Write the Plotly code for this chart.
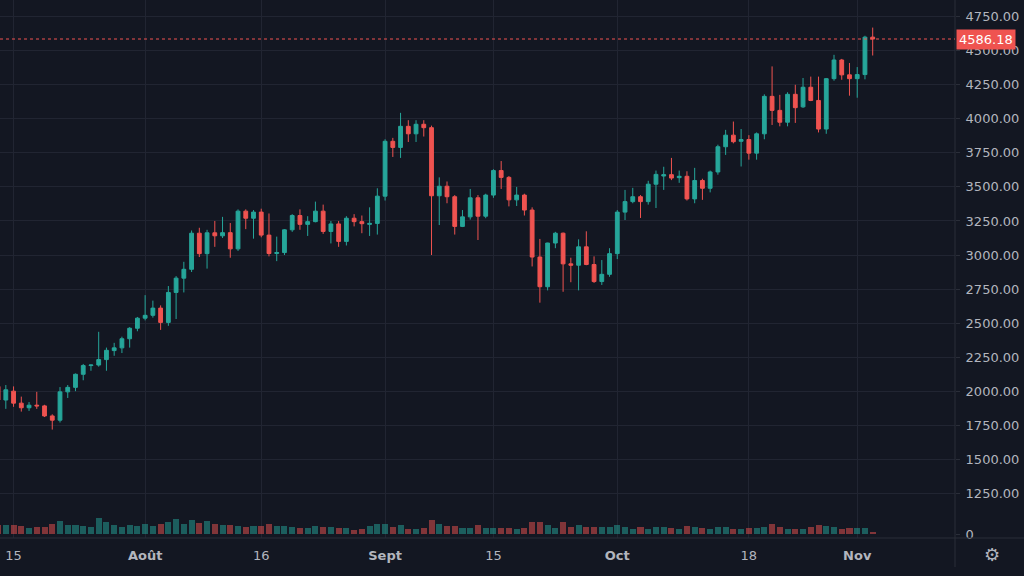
import pandas as pd
import plotly.graph_objects as go

# ---------------- data (ETH daily candles) ----------------
start_date = "2021-07-13"
opens = [2035, 1935, 2000, 1912, 1878, 1897, 1892, 1818, 1787, 1995, 2028, 2124, 2188, 2192, 2232, 2298, 2318, 2385, 2462,
         2536, 2557, 2610, 2505, 2725, 2830, 2895, 3160, 3010, 3163, 3141, 3164, 3045, 3322, 3270, 3315, 3146, 3011, 3018, 3185,
         3290, 3225, 3245, 3322, 3173, 3228, 3100, 3270, 3245, 3225, 3232,
         3432, 3835, 3790, 3945, 3890, 3960, 3935, 3435, 3505, 3428, 3210, 3280, 3420, 3285, 3440, 3620, 3570, 3405, 3440,
         3330, 2985, 2767, 3088, 3160, 2935, 2925, 3060, 2930, 2805, 2858,
         3010, 3315, 3392, 3428, 3392, 3520, 3580, 3590, 3568, 3578, 3412, 3547, 3490, 3610, 3795, 3880, 3835, 3848, 3748,
         3890, 4165, 4062, 3975, 4180, 4088, 4232, 4135, 3925, 4295, 4432, 4323,
         4295, 4325, 4600]
highs = [2045, 2045, 2035, 1960, 1920, 1995, 1900, 1830, 2030, 2045, 2130, 2200, 2195, 2436, 2320, 2355, 2400, 2470, 2545,
         2705, 2665, 2630, 2772, 2845, 2950, 3180, 3200, 3185, 3250, 3280, 3235, 3335, 3335, 3330, 3340, 3305, 3135, 3190,
         3300, 3335, 3285, 3392, 3370, 3250, 3250, 3285, 3300, 3290, 3350, 3490,
         3850, 3860, 4044, 3990, 3990, 3990, 3950, 3570, 3540, 3440, 3330, 3485, 3440, 3450, 3630, 3690, 3580, 3500,
         3450, 3350, 3118, 3090, 3170, 3165, 2980, 3115, 3174, 2990, 2963, 3050,
         3330, 3478, 3493, 3440, 3545, 3620, 3648, 3713, 3620, 3615, 3640, 3560, 3620, 3810, 3919, 3980, 3925, 3880,
         3900, 4180, 4385, 4176, 4195, 4250, 4300, 4310, 4310, 4300, 4470, 4440, 4410,
         4380, 4610, 4670]
lows = [1925, 1870, 1885, 1850, 1855, 1870, 1810, 1718, 1770, 1950, 2000, 2080, 2150, 2180, 2150, 2260, 2280, 2320, 2440,
        2520, 2540, 2450, 2480, 2530, 2725, 2875, 2985, 2900, 3060, 3125, 2980, 3030, 3190, 3120, 3130, 2990, 2955, 3000,
        3170, 3185, 3140, 3240, 3155, 3085, 3060, 3070, 3210, 3160, 3140, 3150,
        3400, 3720, 3713, 3830, 3830, 3870, 3000, 3220, 3380, 3150, 3205, 3260, 3110, 3270, 3420, 3485, 3357, 3360,
        3290, 2916, 2650, 2740, 3050, 2730, 2800, 2740, 2925, 2795, 2780, 2840,
        2970, 3257, 3380, 3272, 3370, 3345, 3478, 3550, 3530, 3400, 3380, 3405, 3460, 3590, 3735, 3820, 3650, 3700,
        3700, 3850, 3955, 3945, 3945, 3970, 4080, 4130, 3900, 3890, 4280, 4287, 4170,
        4155, 4290, 4465]
closes = [1935, 2010, 1912, 1878, 1897, 1892, 1818, 1787, 1995, 2028, 2124, 2188, 2192, 2232, 2300, 2318, 2385, 2462, 2536,
          2557, 2610, 2505, 2725, 2830, 2895, 3160, 3010, 3163, 3141, 3164, 3045, 3322, 3270, 3315, 3146, 3011, 3018, 3185,
          3290, 3225, 3245, 3322, 3173, 3228, 3100, 3270, 3245, 3230, 3232, 3432,
          3835, 3790, 3945, 3890, 3960, 3935, 3435, 3505, 3428, 3210, 3280, 3420, 3285, 3440, 3620, 3570, 3405, 3440,
          3330, 2985, 2767, 3088, 3160, 2935, 2925, 3060, 2930, 2805, 2858, 3010,
          3315, 3392, 3428, 3392, 3520, 3592, 3590, 3565, 3578, 3412, 3547, 3490, 3610, 3795, 3880, 3832, 3848, 3748,
          3890, 4165, 4062, 3975, 4180, 4082, 4232, 4135, 3925, 4295, 4432, 4323, 4295,
          4325, 4600, 4586.18]
volumes = [26, 26, 26, 23, 18, 21, 21, 30, 40, 28, 26, 23, 21, 48, 35, 26, 21, 28, 23,
           31, 25, 30, 35, 46, 30, 43, 33, 40, 30, 28, 28, 23, 21, 23, 23, 30, 23, 23,
           21, 18, 18, 23, 21, 21, 18, 18, 13, 16, 23, 30,
           31, 21, 26, 16, 16, 18, 43, 30, 23, 23, 18, 18, 26, 18, 18, 18, 18, 15,
           18, 35, 35, 26, 18, 36, 21, 26, 21, 20, 20, 21,
           26, 20, 16, 21, 16, 21, 20, 18, 15, 23, 20, 18, 16, 21, 21, 16, 16, 18,
           18, 21, 30, 20, 16, 16, 16, 21, 26, 23, 20, 16, 18,
           18, 18, 6]

tick_dates = ["2021-07-15", "2021-08-01", "2021-08-16", "2021-09-01", "2021-09-15", "2021-10-01", "2021-10-18", "2021-11-01"]
tick_labels = ["15", "<b>Août</b>", "16", "<b>Sept</b>", "15", "<b>Oct</b>", "18", "<b>Nov</b>"]
price_ticks = [1250, 1500, 1750, 2000, 2250, 2500, 2750, 3000, 3250, 3500, 3750, 4000, 4250, 4500, 4750]
last_price = 4586.18

n = len(opens)
assert len(highs) == n and len(lows) == n and len(closes) == n and len(volumes) == n, (len(opens), len(highs), len(lows), len(closes), len(volumes))
dates = pd.date_range(start_date, periods=n, freq="D")

# ---------------- style ----------------
BG = "#131722"
GRID = "#212532"
SEP = "#2a2e39"
TXT = "#b2b5be"
GREEN = "#26a69a"
RED = "#ef5350"
FONT = "DejaVu Sans"

W, H = 1024, 576
R_MARGIN, B_MARGIN = 69, 38
plot_w = W - R_MARGIN
plot_h = H - B_MARGIN

vol_colors = ["rgba(38,166,154,0.5)" if c >= o else "rgba(239,83,80,0.5)" for o, c in zip(opens, closes)]

fig = go.Figure()
fig.add_trace(go.Bar(
    x=dates, y=volumes, yaxis="y2", marker=dict(color=vol_colors, line=dict(width=0)),
    width=0.78 * 86400000, hoverinfo="skip", showlegend=False))
fig.add_trace(go.Candlestick(
    x=dates, open=opens, high=highs, low=lows, close=closes,
    increasing=dict(line=dict(color=GREEN, width=1), fillcolor=GREEN),
    decreasing=dict(line=dict(color=RED, width=1), fillcolor=RED),
    whiskerwidth=0, showlegend=False, hoverinfo="skip"))

# price scale: 4750 at y=16.7px, 1250 at y=493.3px
px_per_unit = (493.3 - 16.7) / 3500
y_top = 4750 + 16.7 / px_per_unit
y_bot = 4750 - (plot_h - 16.7) / px_per_unit

# time scale: 7.74 px per day, 2021-07-21 centred at x=60px
day_px = 7.74
anchor = pd.Timestamp("2021-07-21")
x_left = anchor - pd.Timedelta(days=60 / day_px)
x_right = anchor + pd.Timedelta(days=(plot_w - 60) / day_px)

# volume scale: baseline 4px above plot bottom, 1 unit = 1/3 px
vol_base_px = 4
vol_lo = -vol_base_px * 3
vol_hi = (plot_h - vol_base_px) * 3

fig.update_layout(
    width=W, height=H,
    margin=dict(l=0, r=R_MARGIN, t=0, b=B_MARGIN, pad=0),
    paper_bgcolor=BG, plot_bgcolor=BG,
    font=dict(family=FONT, color=TXT, size=13),
    bargap=0,
    xaxis=dict(
        type="date", range=[x_left, x_right], rangeslider=dict(visible=False),
        tickvals=tick_dates, ticktext=tick_labels, showgrid=True, gridcolor=GRID, gridwidth=1,
        zeroline=False, showline=False, ticks="", ticklabelstandoff=8,
        tickfont=dict(family=FONT, size=13, color=TXT), fixedrange=True),
    yaxis=dict(
        side="right", range=[y_bot, y_top], tickvals=price_ticks,
        ticktext=[f"{v:.2f}" for v in price_ticks], showgrid=True, gridcolor=GRID, gridwidth=1,
        zeroline=False, showline=False, ticks="outside", ticklen=4, tickcolor=SEP, ticklabelstandoff=3,
        tickfont=dict(family=FONT, size=13, color=TXT), fixedrange=True),
    yaxis2=dict(
        overlaying="y", side="right", range=[vol_lo, vol_hi], tickvals=[0], ticktext=["0"],
        showgrid=False, zeroline=False, showline=False, ticks="outside", ticklen=4, tickcolor=SEP,
        ticklabelstandoff=3, tickfont=dict(family=FONT, size=13, color=TXT), fixedrange=True),
)

fig.update_layout(shapes=[
    # price axis separator
    dict(type="line", xref="paper", yref="paper", x0=1, x1=1, y0=1, y1=-(567 - plot_h) / plot_h,
         line=dict(color=SEP, width=1)),
    # time axis separator
    dict(type="line", xref="paper", yref="paper", x0=0, x1=W / plot_w, y0=0, y1=0,
         line=dict(color=SEP, width=1)),
    # last price line
    dict(type="line", xref="paper", yref="y", x0=0, x1=1, y0=last_price, y1=last_price,
         line=dict(color=RED, width=1, dash="dot")),
])

fig.add_annotation(
    xref="paper", yref="y", x=1, y=last_price, xanchor="left", yanchor="middle",
    text=f"{last_price:.2f}", showarrow=False, bgcolor=RED, borderpad=2, xshift=1,
    font=dict(family=FONT, size=13, color="#ffffff"))
fig.add_annotation(
    xref="paper", yref="paper", x=(992) / plot_w, y=-(554 - plot_h) / plot_h,
    xanchor="center", yanchor="middle", text="⚙", showarrow=False,
    font=dict(family=FONT, size=18, color=TXT))

fig.write_html("out.html")
